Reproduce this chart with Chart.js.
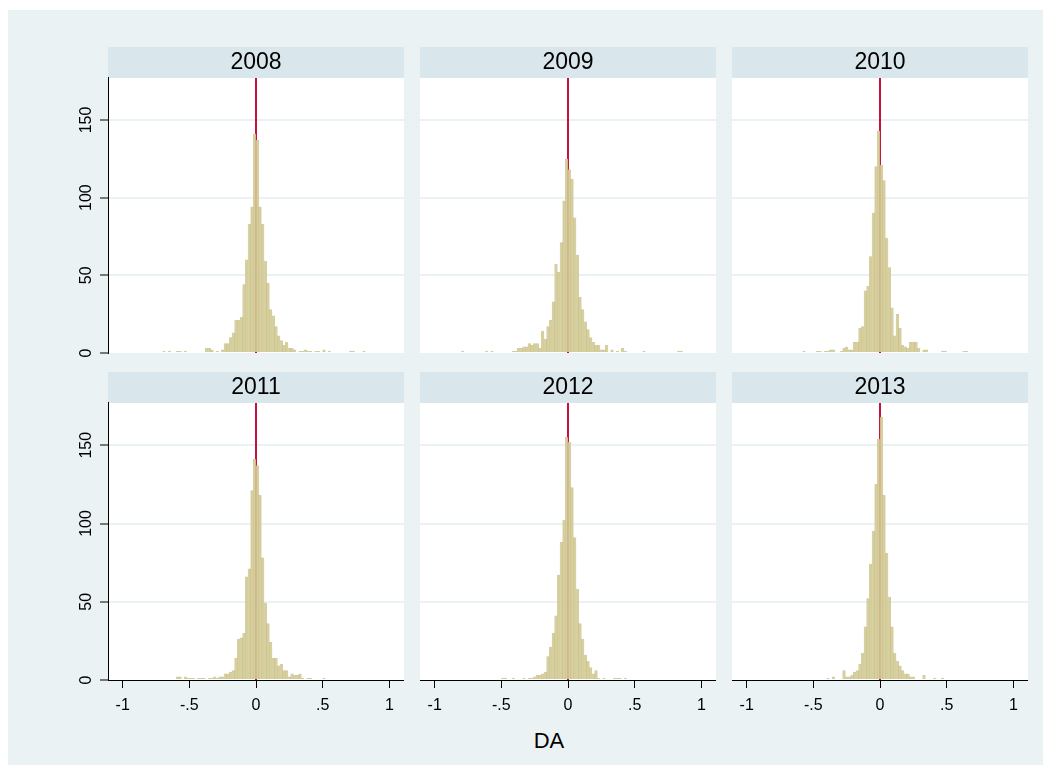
<!DOCTYPE html>
<html>
<head>
<meta charset="utf-8">
<script src="https://cdn.jsdelivr.net/npm/chart.js@4.4.1/dist/chart.umd.min.js"></script>
<style>
body{margin:0;background:#fff;font-family:"Liberation Sans",Arial,sans-serif;}
#graph{position:absolute;left:8px;top:10px;width:1035px;height:755px;background:#eaf2f3;}
canvas{position:absolute;}
#xtitle{position:absolute;left:449px;top:728px;width:200px;text-align:center;font-size:22px;color:#000;}
</style>
</head>
<body>
<div id="graph"></div>
<canvas id="p2008"></canvas>
<canvas id="p2009"></canvas>
<canvas id="p2010"></canvas>
<canvas id="p2011"></canvas>
<canvas id="p2012"></canvas>
<canvas id="p2013"></canvas>
<div id="xtitle">DA</div>
<script>
var years = ['2008','2009','2010','2011','2012','2013']
// histogram bins: left edge of the first bin and bin width
var binStart = -0.8
var binWidth = 0.02
var xTicks = [-1, -0.5, 0, 0.5, 1]
var xTickLabels = ['-1', '-.5', '0', '.5', '1']
var yTicks = [0, 50, 100, 150]

// counts per bin, from -0.8 to 0.9
var counts2008 = [0,0,0,0,0,1,0,1,0,0, 1,1,0,1,0,0,0,0,0,0, 0,3,3,2,0,1,0,2,6,6,
    10,13,21,21,23,44,60,83,94,141, 137,94,83,59,45,28,24,17,11,8, 5,7,3,3,2,0,1,1,2,1,
    1,0,1,1,0,2,0,1,0,0, 0,0,0,0,0,1,1,0,0,0, 1,0,0,0,0]
var counts2009 = [1,0,0,0,0,0,0,0,0,1, 0,1,0,0,0,0,0,0,0,1, 1,3,3,4,4,6,5,6,6,3,
    14,9,17,21,33,57,52,71,98,125, 118,112,87,63,36,28,20,15,10,7, 5,5,2,2,5,0,2,0,1,0,
    3,1,0,0,0,0,0,0,1,0, 0,0,0,0,0,0,0,0,0,0, 0,1,1,0,0]
var counts2010 = [0,0,0,0,0,0,0,0,0,0, 0,1,0,0,0,0,1,1,0,1, 1,2,2,0,0,1,3,4,2,2,
    7,7,16,17,40,43,62,90,120,143, 121,111,74,55,29,11,25,16,5,4, 3,7,7,7,3,0,2,2,0,0,
    0,0,0,1,1,0,0,0,0,0, 0,1,1,0,0,0,0,0,0,0, 0,0,0,0,0]
var counts2011 = [0,0,0,0,0,0,0,0,0,0, 2,2,0,2,1,1,1,0,1,1, 1,0,1,1,2,1,2,2,4,4,
    5,6,14,26,27,30,66,71,121,141, 137,118,78,49,36,24,14,14,9,10, 6,6,2,4,3,3,4,1,0,1,
    1,0,0,0,0,1,0,0,0,0, 0,0,0,0,0,0,0,0,0,0, 0,0,0,0,0]
var counts2012 = [0,0,0,0,0,0,0,0,0,0, 0,0,0,0,0,1,1,0,0,1, 0,0,0,1,0,1,1,2,3,3,
    4,5,15,21,30,41,67,88,102,155, 152,123,91,58,36,26,16,12,8,4, 6,1,0,1,0,0,0,1,1,1,
    0,1,0,0,0,0,0,0,0,0, 0,0,0,0,0,0,0,0,0,0, 0,0,0,0,0]
var counts2013 = [0,0,0,0,0,0,0,0,0,0, 0,0,0,0,0,0,0,0,0,0, 1,0,2,0,0,0,6,2,2,3,
    5,6,10,17,34,52,74,95,125,154, 168,118,81,53,34,17,12,9,6,4, 4,2,2,0,0,0,3,0,0,0,
    1,0,0,1,0,0,0,0,0,0, 0,0,0,0,0,0,0,0,0,0, 0,0,0,0,0]
var allCounts = [counts2008, counts2009, counts2010, counts2011, counts2012, counts2013]

var FONT = '"Liberation Sans", Arial, sans-serif'
var X_MIN = -1.11, X_MAX = 1.11, Y_MAX = 177
var colLeft = [108, 420, 732]
var rowTop = [47, 372]

var stripPlugin = {
    id:'strip',
    beforeDraw:function(chart){
        var a = chart.chartArea, ctx = chart.ctx
        ctx.save()
        ctx.fillStyle = '#d9e6eb'
        ctx.fillRect(a.left, 0, a.right - a.left, a.top)
        ctx.fillStyle = '#ffffff'
        ctx.fillRect(a.left, a.top, a.right - a.left, a.bottom - a.top)
        ctx.restore()
    }
}

function makePanel(i){
    var col = i % 3
    var row = Math.floor(i / 3)
    var yAxisW = col == 0 ? 52 : 0
    var xAxisH = row == 1 ? 40 : 0
    var padBottom = row == 0 ? 12 : 0
    var plotH = row == 0 ? 275 : 277
    var canvas = document.getElementById('p' + years[i])
    canvas.width = 296 + yAxisW
    canvas.height = 31 + plotH + xAxisH + padBottom
    canvas.style.left = (colLeft[col] - yAxisW) + 'px'
    canvas.style.top = rowTop[row] + 'px'

    var points = []
    for(var k = 0; k < allCounts[i].length; k++){
        points.push({x: binStart + (k + 0.5) * binWidth, y: allCounts[i][k]})
    }

    new Chart(canvas, {
        type:'bar',
        data:{
            datasets:[{
                type:'bar',
                data:points,
                backgroundColor:'#d6cf9c',
                borderColor:'rgba(175,165,105,0.55)',
                borderWidth:0.5,
                barPercentage:1,
                categoryPercentage:1,
                order:1
            },{
                type:'line',
                data:[{x:0, y:0}, {x:0, y:Y_MAX}],
                borderColor:'#c8103c',
                borderWidth:2,
                pointRadius:0,
                order:2
            }]
        },
        options:{
            responsive:false,
            animation:false,
            layout:{padding:{bottom:padBottom}},
            plugins:{
                legend:{display:false},
                tooltip:{enabled:false},
                title:{
                    display:true,
                    text:years[i],
                    fullSize:false,
                    color:'#000',
                    font:{size:23, family:FONT, weight:'normal'},
                    padding:{top:2, bottom:1.4}
                }
            },
            scales:{
                x:{
                    type:'linear',
                    min:X_MIN, max:X_MAX,
                    offset:false,
                    display:row == 1,
                    afterFit:function(s){ s.height = xAxisH; s.paddingLeft = 0; s.paddingRight = 0 },
                    border:{display:true, color:'#000', width:1},
                    grid:{offset:false, drawOnChartArea:false, drawTicks:true, tickLength:8, color:'#000', tickWidth:1},
                    ticks:{
                        stepSize:0.5, includeBounds:false, autoSkip:false, maxRotation:0,
                        padding:8, color:'#000', font:{size:16, family:FONT},
                        callback:function(v){
                            var j = xTicks.indexOf(v)
                            return j >= 0 ? xTickLabels[j] : ''
                        }
                    }
                },
                y:{
                    min:0, max:Y_MAX,
                    afterFit:function(s){ s.width = yAxisW; s.paddingTop = 0; s.paddingBottom = 0 },
                    border:{display:col == 0, color:'#000', width:1},
                    grid:{
                        color:function(c){ return c.tick && c.tick.value == 0 ? 'rgba(0,0,0,0)' : '#eaf2f3' },
                        lineWidth:2,
                        drawTicks:col == 0, tickLength:8, tickColor:'#000', tickWidth:1
                    },
                    ticks:{
                        display:col == 0,
                        stepSize:50, includeBounds:false,
                        minRotation:90, maxRotation:90, crossAlign:'center',
                        padding:0, color:'#000', font:{size:16, family:FONT},
                        callback:function(v){ return yTicks.indexOf(v) >= 0 ? String(v) : '' }
                    }
                }
            }
        },
        plugins:[stripPlugin]
    })
}

for(var i = 0; i < years.length; i++) makePanel(i)
</script>
</body>
</html>
